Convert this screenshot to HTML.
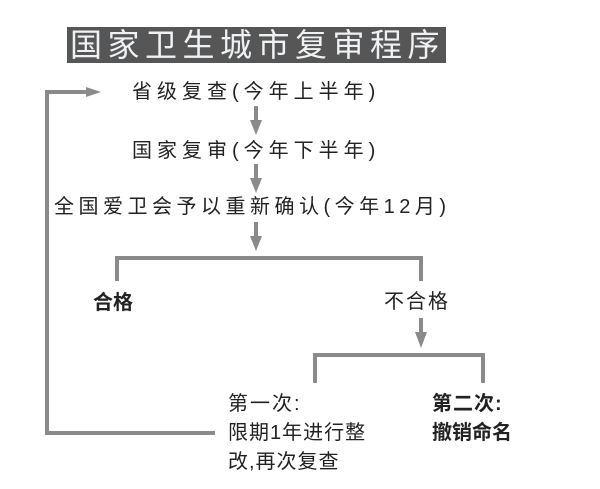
<!DOCTYPE html>
<html><head><meta charset="utf-8"><style>
body{margin:0;width:600px;height:489px;background:#fff;position:relative;overflow:hidden;font-family:"Liberation Sans","Noto Sans CJK SC",sans-serif;color:#222}
.t{position:absolute;white-space:nowrap;font-size:20px;line-height:24px}
</style></head><body>
<div style="position:absolute;left:67px;top:27px;width:379px;height:36px;background:#565656"></div>
<div class="t" style="left:70px;top:27px;font-size:32px;line-height:36px;color:#eef2f5;letter-spacing:5.5px">国家卫生城市复审程序</div>
<svg width="600" height="489" style="position:absolute;left:0;top:0">
<g stroke="#8a8a8a" stroke-width="4" fill="none">
<polyline points="215,433 47,433 47,92 88,92"/>
<line x1="256" y1="106" x2="256" y2="122"/>
<line x1="256" y1="164" x2="256" y2="180"/>
<line x1="256" y1="222" x2="256" y2="238"/>
<polyline points="117,281 117,258 421,258 421,281"/>
<line x1="421" y1="318" x2="421" y2="334"/>
<polyline points="315,383 315,355 483,355 483,383"/>
</g>
<g fill="#8a8a8a">
<polygon points="86,87 101,92 86,97"/>
<polygon points="250,120 262,120 256,135"/>
<polygon points="250,178 262,178 256,193"/>
<polygon points="250,236 262,236 256,251"/>
<polygon points="415,332 427,332 421,348"/>
</g>
</svg>
<div class="t" style="left:132px;top:80px;letter-spacing:5px">省级复查(今年上半年)</div>
<div class="t" style="left:132px;top:139px;letter-spacing:5px">国家复审(今年下半年)</div>
<div class="t" style="left:54px;top:195px;letter-spacing:4.5px">全国爱卫会予以重新确认(今年12月)</div>
<div class="t" style="left:93px;top:291px;font-weight:bold">合格</div>
<div class="t" style="left:384px;top:290px;letter-spacing:2px">不合格</div>
<div class="t" style="left:228px;top:392px;letter-spacing:2px">第一次:</div>
<div class="t" style="left:228px;top:421px;letter-spacing:1px">限期1年进行整</div>
<div class="t" style="left:228px;top:450px;letter-spacing:1px">改,再次复查</div>
<div class="t" style="left:432px;top:392px;font-weight:bold;letter-spacing:1px">第二次:</div>
<div class="t" style="left:432px;top:421px;font-weight:bold">撤销命名</div>
</body></html>
